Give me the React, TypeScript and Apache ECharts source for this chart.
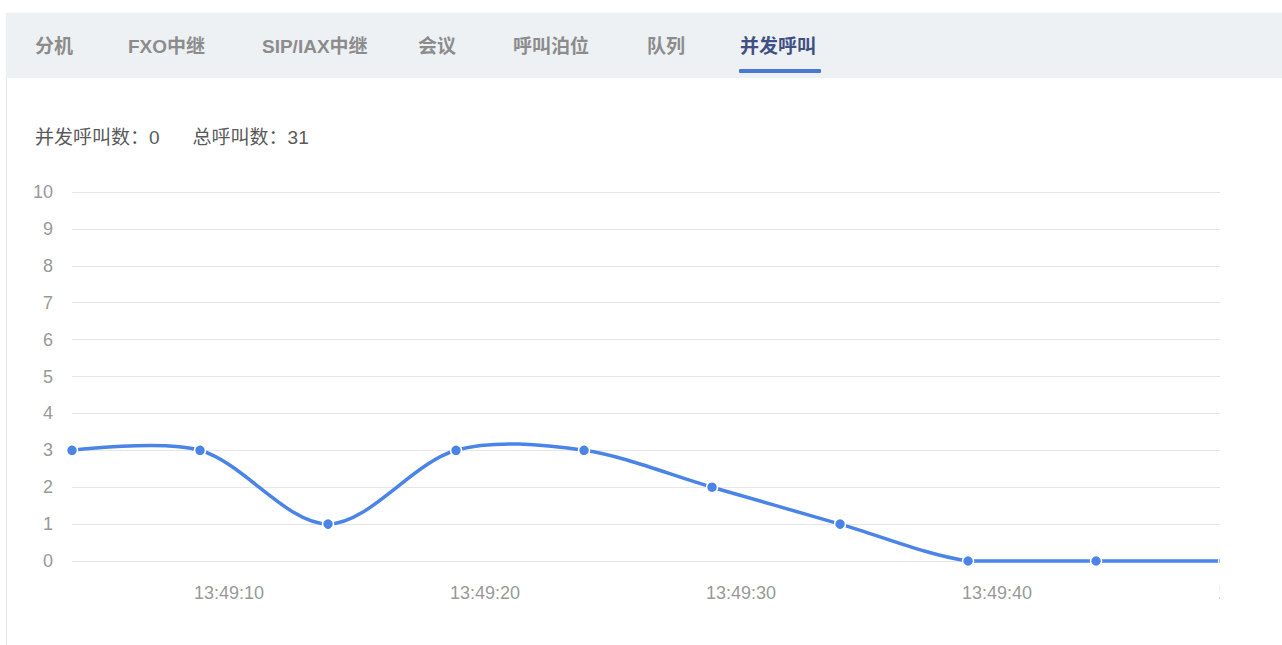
import React, { useEffect, useRef } from "react";
import * as echarts from "echarts";

const tabs = ["分机", "FXO中继", "SIP/IAX中继", "会议", "呼叫泊位", "队列", "并发呼叫"];
const tabX = [35, 128, 262, 418, 513, 647, 740];
const activeTab = 6;

const concurrentLabel = "并发呼叫数：";
const concurrentValue = 0;
const totalLabel = "总呼叫数：";
const totalValue = 31;

// sample times (HH:MM:SS.ms) and concurrent call counts
const times = [
  "13:49:03.87", "13:49:08.87", "13:49:13.87", "13:49:18.87", "13:49:23.87",
  "13:49:28.87", "13:49:33.87", "13:49:38.87", "13:49:43.87", "13:49:48.87",
];
const counts = [3, 3, 1, 3, 3, 2, 1, 0, 0, 0];
const axisMaxTime = "13:49:50.00";
const labelStepSeconds = 10;

function toTs(t: string): number {
  const [h, m, s] = t.split(":");
  const sec = parseFloat(s);
  const whole = Math.floor(sec);
  const ms = Math.round((sec - whole) * 1000);
  return new Date(2024, 0, 1, +h, +m, whole, ms).getTime();
}

const FONT = 'Arial, "Liberation Sans", "Noto Sans CJK SC", sans-serif';
const LINE = "#4a84e6";
const SMOOTH = 0.32;

export default function App() {
  const ref = useRef<HTMLDivElement>(null);

  useEffect(() => {
    if (!ref.current) return;
    const chart = echarts.init(ref.current, undefined, { renderer: "svg" });
    const data = times.map((t, i) => [toTs(t), counts[i]]);

    const renderItem = (params: any, api: any) => {
      const i = params.dataIndex;
      const n = data.length;
      if (i >= n - 1) return { type: "group", children: [] };
      const cs = params.coordSys;
      const clamp = (pt: number[]) => [
        Math.min(Math.max(pt[0], cs.x), cs.x + cs.width),
        Math.min(Math.max(pt[1], cs.y), cs.y + cs.height),
      ];
      const pts = data.map((d) => api.coord(d));
      const ctrl = (k: number) => {
        const p = pts[k];
        const prev = pts[k - 1];
        const next = pts[k + 1];
        if (!prev || !next) return { cin: p, cout: p };
        const vx = next[0] - prev[0];
        const vy = next[1] - prev[1];
        const lp = Math.hypot(p[0] - prev[0], p[1] - prev[1]);
        const ln = Math.hypot(next[0] - p[0], next[1] - p[1]);
        const r = ln / (ln + lp);
        return {
          cin: clamp([p[0] - vx * SMOOTH * (1 - r), p[1] - vy * SMOOTH * (1 - r)]),
          cout: clamp([p[0] + vx * SMOOTH * r, p[1] + vy * SMOOTH * r]),
        };
      };
      const a = pts[i];
      const b = pts[i + 1];
      const ca = ctrl(i).cout;
      const cb = ctrl(i + 1).cin;
      return {
        type: "bezierCurve",
        shape: {
          x1: a[0], y1: a[1],
          cpx1: ca[0], cpy1: ca[1],
          cpx2: cb[0], cpy2: cb[1],
          x2: b[0], y2: b[1],
        },
        style: { stroke: LINE, lineWidth: 3.5, fill: "none", lineCap: "round" },
      };
    };

    chart.setOption({
      animation: false,
      textStyle: { fontFamily: FONT },
      grid: { left: 72, right: 1300 - 1253, top: 192, bottom: 645 - 561, containLabel: false },
      xAxis: {
        type: "time",
        min: toTs(times[0]),
        max: toTs(axisMaxTime),
        axisLine: { show: false },
        axisTick: { show: false },
        splitLine: { show: false },
        axisLabel: {
          color: "#999",
          fontSize: 18,
          margin: 23,
          fontFamily: FONT,
          showMinLabel: false,
          showMaxLabel: true,
          hideOverlap: false,
          formatter: (v: number) => {
            const d = new Date(v);
            if (d.getSeconds() % labelStepSeconds !== 0 || d.getMilliseconds() !== 0) return "";
            const p = (n: number) => String(n).padStart(2, "0");
            return `${p(d.getHours())}:${p(d.getMinutes())}:${p(d.getSeconds())}`;
          },
        },
      },
      yAxis: {
        type: "value",
        min: 0,
        max: 10,
        interval: 1,
        axisLine: { show: false },
        axisTick: { show: false },
        splitLine: { lineStyle: { color: "#e6e6e6", width: 1 } },
        axisLabel: { color: "#999", fontSize: 18, margin: 19, fontFamily: FONT },
      },
      series: [
        {
          type: "custom",
          data,
          encode: { x: 0, y: 1 },
          renderItem,
          clip: false,
          z: 2,
        },
        {
          type: "scatter",
          data,
          symbol: "circle",
          symbolSize: 11,
          z: 3,
          itemStyle: { color: LINE, borderColor: "#fff", borderWidth: 1.5, opacity: 1 },
        },
      ],
    });
    return () => chart.dispose();
  }, []);

  return (
    <div
      style={{
        position: "fixed",
        left: 0,
        top: 0,
        width: 1282,
        height: 645,
        background: "#fff",
        overflow: "hidden",
        fontFamily: FONT,
      }}
    >
      <div
        style={{
          position: "absolute",
          left: 6,
          top: 13,
          width: 1276,
          height: 65,
          background: "#eef1f4",
          boxShadow: "0 0 2px rgba(0,0,0,0.06)",
        }}
      />
      <div
        style={{
          position: "absolute",
          left: 6,
          top: 78,
          width: 1,
          height: 567,
          background: "#e6e6e6",
        }}
      />
      {tabs.map((t, i) => (
        <div
          key={t}
          style={{
            position: "absolute",
            left: tabX[i],
            top: 34,
            fontSize: 19,
            lineHeight: "26px",
            fontWeight: "bold",
            color: i === activeTab ? "#3f5182" : "#8c8c8c",
            whiteSpace: "nowrap",
          }}
        >
          {t}
        </div>
      ))}
      <div
        style={{
          position: "absolute",
          left: 739,
          top: 69,
          width: 82,
          height: 4,
          background: "#4a78d4",
          borderRadius: 1,
        }}
      />
      <div
        style={{
          position: "absolute",
          left: 35,
          top: 125,
          fontSize: 19,
          lineHeight: "26px",
          color: "#5a5a5a",
          whiteSpace: "nowrap",
        }}
      >
        <span>{concurrentLabel}{concurrentValue}</span>
        <span style={{ marginLeft: 33 }}>{totalLabel}{totalValue}</span>
      </div>
      <div
        style={{
          position: "absolute",
          left: 0,
          top: 0,
          width: 1220,
          height: 645,
          overflow: "hidden",
        }}
      >
        <div ref={ref} style={{ position: "absolute", left: 0, top: 0, width: 1300, height: 645 }} />
      </div>
    </div>
  );
}
